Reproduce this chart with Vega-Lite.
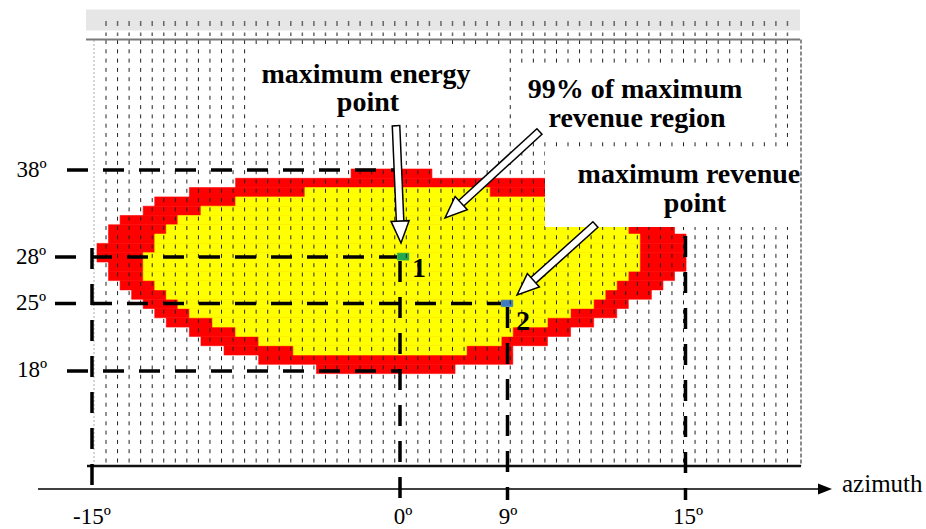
{
  "$schema": "https://vega.github.io/schema/vega-lite/v6.json",
  "width": 926,
  "height": 529,
  "autosize": {"type": "none"},
  "padding": 0,
  "background": "white",
  "config": {"view": {"stroke": null}},
  "datasets": {
    "cells": [
      {"c": "red", "y": 0, "y2": 1, "x": 22, "x2": 29},
      {"c": "red", "y": 1, "y2": 2, "x": 12, "x2": 39},
      {"c": "red", "y": 2, "y2": 3, "x": 8, "x2": 39},
      {"c": "red", "y": 3, "y2": 4, "x": 5, "x2": 40},
      {"c": "red", "y": 4, "y2": 5, "x": 4, "x2": 40},
      {"c": "red", "y": 5, "y2": 6, "x": 2, "x2": 40},
      {"c": "red", "y": 6, "y2": 7, "x": 1, "x2": 50},
      {"c": "red", "y": 7, "y2": 8, "x": 1, "x2": 51},
      {"c": "red", "y": 8, "y2": 9, "x": 0, "x2": 51},
      {"c": "red", "y": 9, "y2": 10, "x": 0, "x2": 51},
      {"c": "red", "y": 10, "y2": 11, "x": 1, "x2": 51},
      {"c": "red", "y": 11, "y2": 12, "x": 1, "x2": 50},
      {"c": "red", "y": 12, "y2": 13, "x": 2, "x2": 49},
      {"c": "red", "y": 13, "y2": 14, "x": 3, "x2": 48},
      {"c": "red", "y": 14, "y2": 15, "x": 4, "x2": 46},
      {"c": "red", "y": 15, "y2": 16, "x": 5, "x2": 45},
      {"c": "red", "y": 16, "y2": 17, "x": 6, "x2": 43},
      {"c": "red", "y": 17, "y2": 18, "x": 8, "x2": 41},
      {"c": "red", "y": 18, "y2": 19, "x": 9, "x2": 39},
      {"c": "red", "y": 19, "y2": 20, "x": 11, "x2": 36},
      {"c": "red", "y": 20, "y2": 21, "x": 14, "x2": 36},
      {"c": "red", "y": 21, "y2": 22, "x": 19, "x2": 31},
      {"c": "yellow", "y": 2, "y2": 3, "x": 18, "x2": 34},
      {"c": "yellow", "y": 3, "y2": 4, "x": 12, "x2": 40},
      {"c": "yellow", "y": 4, "y2": 5, "x": 9, "x2": 40},
      {"c": "yellow", "y": 5, "y2": 6, "x": 7, "x2": 40},
      {"c": "yellow", "y": 6, "y2": 7, "x": 6, "x2": 46},
      {"c": "yellow", "y": 7, "y2": 8, "x": 5, "x2": 47},
      {"c": "yellow", "y": 8, "y2": 9, "x": 5, "x2": 47},
      {"c": "yellow", "y": 9, "y2": 10, "x": 4, "x2": 47},
      {"c": "yellow", "y": 10, "y2": 11, "x": 4, "x2": 47},
      {"c": "yellow", "y": 11, "y2": 12, "x": 4, "x2": 46},
      {"c": "yellow", "y": 12, "y2": 13, "x": 5, "x2": 45},
      {"c": "yellow", "y": 13, "y2": 14, "x": 6, "x2": 44},
      {"c": "yellow", "y": 14, "y2": 15, "x": 7, "x2": 43},
      {"c": "yellow", "y": 15, "y2": 16, "x": 8, "x2": 41},
      {"c": "yellow", "y": 16, "y2": 17, "x": 10, "x2": 39},
      {"c": "yellow", "y": 17, "y2": 18, "x": 12, "x2": 36},
      {"c": "yellow", "y": 18, "y2": 19, "x": 14, "x2": 35},
      {"c": "yellow", "y": 19, "y2": 20, "x": 17, "x2": 32},
      {"c": "green", "y": 9.05, "y2": 9.8, "x": 26, "x2": 27},
      {"c": "blue", "y": 14.1, "y2": 14.8, "x": 35, "x2": 36}
    ],
    "grid": [
      {"x": 0.78, "y": -13.871, "y2": 31.935, "hy": -15.914, "hy2": -14.301},
      {"x": 1.78, "y": -13.871, "y2": 31.935, "hy": -15.914, "hy2": -14.301},
      {"x": 2.78, "y": -13.871, "y2": 31.935, "hy": -15.914, "hy2": -14.301},
      {"x": 3.78, "y": -13.871, "y2": 31.935, "hy": -15.914, "hy2": -14.301},
      {"x": 4.78, "y": -13.871, "y2": 31.935, "hy": -15.914, "hy2": -14.301},
      {"x": 5.78, "y": -13.871, "y2": 31.935, "hy": -15.914, "hy2": -14.301},
      {"x": 6.78, "y": -13.871, "y2": 31.935, "hy": -15.914, "hy2": -14.301},
      {"x": 7.78, "y": -13.871, "y2": 31.935, "hy": -15.914, "hy2": -14.301},
      {"x": 8.78, "y": -13.871, "y2": 31.935, "hy": -15.914, "hy2": -14.301},
      {"x": 9.78, "y": -13.871, "y2": 31.935, "hy": -15.914, "hy2": -14.301},
      {"x": 10.78, "y": -13.871, "y2": 31.935, "hy": -15.914, "hy2": -14.301},
      {"x": 11.78, "y": -13.871, "y2": 31.935, "hy": -15.914, "hy2": -14.301},
      {"x": 12.78, "y": -13.871, "y2": 31.935, "hy": -15.914, "hy2": -14.301},
      {"x": 13.78, "y": -13.871, "y2": 31.935, "hy": -15.914, "hy2": -14.301},
      {"x": 14.78, "y": -13.871, "y2": 31.935, "hy": -15.914, "hy2": -14.301},
      {"x": 15.78, "y": -13.871, "y2": 31.935, "hy": -15.914, "hy2": -14.301},
      {"x": 16.78, "y": -13.871, "y2": 31.935, "hy": -15.914, "hy2": -14.301},
      {"x": 17.78, "y": -13.871, "y2": 31.935, "hy": -15.914, "hy2": -14.301},
      {"x": 18.78, "y": -13.871, "y2": 31.935, "hy": -15.914, "hy2": -14.301},
      {"x": 19.78, "y": -13.871, "y2": 31.935, "hy": -15.914, "hy2": -14.301},
      {"x": 20.78, "y": -13.871, "y2": 31.935, "hy": -15.914, "hy2": -14.301},
      {"x": 21.78, "y": -13.871, "y2": 31.935, "hy": -15.914, "hy2": -14.301},
      {"x": 22.78, "y": -13.871, "y2": 31.935, "hy": -15.914, "hy2": -14.301},
      {"x": 23.78, "y": -13.871, "y2": 31.935, "hy": -15.914, "hy2": -14.301},
      {"x": 24.78, "y": -13.871, "y2": 31.935, "hy": -15.914, "hy2": -14.301},
      {"x": 25.78, "y": -13.871, "y2": 31.935, "hy": -15.914, "hy2": -14.301},
      {"x": 26.78, "y": -13.871, "y2": 31.935, "hy": -15.914, "hy2": -14.301},
      {"x": 27.78, "y": -13.871, "y2": 31.935, "hy": -15.914, "hy2": -14.301},
      {"x": 28.78, "y": -13.871, "y2": 31.935, "hy": -15.914, "hy2": -14.301},
      {"x": 29.78, "y": -13.871, "y2": 31.935, "hy": -15.914, "hy2": -14.301},
      {"x": 30.78, "y": -13.871, "y2": 31.935, "hy": -15.914, "hy2": -14.301},
      {"x": 31.78, "y": -13.871, "y2": 31.935, "hy": -15.914, "hy2": -14.301},
      {"x": 32.78, "y": -13.871, "y2": 31.935, "hy": -15.914, "hy2": -14.301},
      {"x": 33.78, "y": -13.871, "y2": 31.935, "hy": -15.914, "hy2": -14.301},
      {"x": 34.78, "y": -13.871, "y2": 31.935, "hy": -15.914, "hy2": -14.301},
      {"x": 35.78, "y": -13.871, "y2": 31.935, "hy": -15.914, "hy2": -14.301},
      {"x": 36.78, "y": -13.871, "y2": 31.935, "hy": -15.914, "hy2": -14.301},
      {"x": 37.78, "y": -13.871, "y2": 31.935, "hy": -15.914, "hy2": -14.301},
      {"x": 38.78, "y": -13.871, "y2": 31.935, "hy": -15.914, "hy2": -14.301},
      {"x": 39.78, "y": -13.871, "y2": 31.935, "hy": -15.914, "hy2": -14.301},
      {"x": 40.78, "y": -13.871, "y2": 31.935, "hy": -15.914, "hy2": -14.301},
      {"x": 41.78, "y": -13.871, "y2": 31.935, "hy": -15.914, "hy2": -14.301},
      {"x": 42.78, "y": -13.871, "y2": 31.935, "hy": -15.914, "hy2": -14.301},
      {"x": 43.78, "y": -13.871, "y2": 31.935, "hy": -15.914, "hy2": -14.301},
      {"x": 44.78, "y": -13.871, "y2": 31.935, "hy": -15.914, "hy2": -14.301},
      {"x": 45.78, "y": -13.871, "y2": 31.935, "hy": -15.914, "hy2": -14.301},
      {"x": 46.78, "y": -13.871, "y2": 31.935, "hy": -15.914, "hy2": -14.301},
      {"x": 47.78, "y": -13.871, "y2": 31.935, "hy": -15.914, "hy2": -14.301},
      {"x": 48.78, "y": -13.871, "y2": 31.935, "hy": -15.914, "hy2": -14.301},
      {"x": 49.78, "y": -13.871, "y2": 31.935, "hy": -15.914, "hy2": -14.301},
      {"x": 50.78, "y": -13.871, "y2": 31.935, "hy": -15.914, "hy2": -14.301},
      {"x": 51.78, "y": -13.871, "y2": 31.935, "hy": -15.914, "hy2": -14.301},
      {"x": 52.78, "y": -13.871, "y2": 31.935, "hy": -15.914, "hy2": -14.301},
      {"x": 53.78, "y": -13.871, "y2": 31.935, "hy": -15.914, "hy2": -14.301},
      {"x": 54.78, "y": -13.871, "y2": 31.935, "hy": -15.914, "hy2": -14.301},
      {"x": 55.78, "y": -13.871, "y2": 31.935, "hy": -15.914, "hy2": -14.301},
      {"x": 56.78, "y": -13.871, "y2": 31.935, "hy": -15.914, "hy2": -14.301},
      {"x": 57.78, "y": -13.871, "y2": 31.935, "hy": -15.914, "hy2": -14.301},
      {"x": 58.78, "y": -13.871, "y2": 31.935, "hy": -15.914, "hy2": -14.301},
      {"x": 59.78, "y": -13.871, "y2": 31.935, "hy": -15.914, "hy2": -14.301}
    ],
    "frame": [
      {"part": "header", "x": -0.952, "x2": 60.866, "y": -17.151, "y2": -14.892},
      {"part": "box", "x": 13.247, "x2": 35.325, "y": -13.011, "y2": -4.731},
      {"part": "box", "x": 36.19, "x2": 58.442, "y": -11.183, "y2": -3.333},
      {"part": "box", "x": 38.788, "x2": 60.779, "y": -2.043, "y2": 6.237}
    ],
    "borders": [
      {"part": "headline", "x": -0.952, "x2": 60.866, "y": -13.925, "y2": -13.925},
      {"part": "bottom", "x": -0.866, "x2": 60.952, "y": 31.935, "y2": 31.935},
      {"part": "right", "x": 60.952, "x2": 60.952, "y": -13.925, "y2": 31.935},
      {"part": "left", "x": -0.26, "x2": -0.26, "y": -13.871, "y2": 31.935},
      {"part": "axis", "x": -5.108, "x2": 62.771, "y": 34.409, "y2": 34.409}
    ],
    "guides": [
      {"deg": "38", "x": -2.597, "x2": 26.234, "y": 0.108, "y2": 0.108},
      {"deg": "28", "x": -3.636, "x2": 25.974, "y": 9.462, "y2": 9.462},
      {"deg": "25", "x": -3.636, "x2": 34.978, "y": 14.462, "y2": 14.462},
      {"deg": "18", "x": -2.597, "x2": 26.234, "y": 21.72, "y2": 21.72},
      {"deg": "0", "x": 26.234, "x2": 26.234, "y": 9.892, "y2": 35.591},
      {"deg": "9", "x": 35.541, "x2": 35.541, "y": 14.839, "y2": 35.591},
      {"deg": "15", "x": 50.952, "x2": 50.952, "y": 7.204, "y2": 35.591},
      {"deg": "-15", "x": -0.433, "x2": -0.433, "y": 8.495, "y2": 35.591}
    ],
    "arrows": [
      {"id": 1, "part": "o", "ord": 0, "x": 25.887, "y": -4.731},
      {"id": 1, "part": "o", "ord": 1, "x": 26.251, "y": 5.914},
      {"id": 1, "part": "i", "ord": 0, "x": 25.893, "y": -4.57},
      {"id": 1, "part": "i", "ord": 1, "x": 26.251, "y": 5.914},
      {"id": 2, "part": "o", "ord": 0, "x": 38.355, "y": -4.086},
      {"id": 2, "part": "o", "ord": 1, "x": 31.342, "y": 3.892},
      {"id": 2, "part": "i", "ord": 0, "x": 38.26, "y": -3.978},
      {"id": 2, "part": "i", "ord": 1, "x": 31.342, "y": 3.892},
      {"id": 3, "part": "o", "ord": 0, "x": 43.203, "y": 5.914},
      {"id": 3, "part": "o", "ord": 1, "x": 37.584, "y": 12.183},
      {"id": 3, "part": "i", "ord": 0, "x": 43.108, "y": 6.022},
      {"id": 3, "part": "i", "ord": 1, "x": 37.584, "y": 12.183}
    ],
    "heads": [
      {"id": 1, "x": 26.32, "y": 7.957, "heading": 177.6},
      {"id": 2, "x": 30.13, "y": 5.269, "heading": 227.5},
      {"id": 3, "x": 36.364, "y": 13.548, "heading": 228.1}
    ],
    "axisTip": [{"x": 63.636, "y": 34.409}],
    "labels": [
      {"t": "38º", "x": -5.671, "y": 0.108},
      {"t": "28º", "x": -5.714, "y": 9.462},
      {"t": "25º", "x": -5.714, "y": 14.409},
      {"t": "18º", "x": -5.628, "y": 21.613},
      {"t": "-15º", "x": -0.433, "y": 37.419},
      {"t": "0º", "x": 26.494, "y": 37.419},
      {"t": "9º", "x": 35.584, "y": 37.419},
      {"t": "15º", "x": 51.169, "y": 37.419}
    ],
    "axisTitle": [{"t": "azimuth", "x": 64.502, "y": 34.731}],
    "notes": [
      {"t": "maximum energy", "x": 23.29, "y": -9.247},
      {"t": "point", "x": 23.463, "y": -6.237},
      {"t": "99% of maximum", "x": 46.58, "y": -7.634},
      {"t": "revenue region", "x": 46.753, "y": -4.516},
      {"t": "maximum revenue", "x": 51.25, "y": 1.505},
      {"t": "point", "x": 51.775, "y": 4.624},
      {"t": "1", "x": 27.879, "y": 11.613},
      {"t": "2", "x": 36.883, "y": 17.312}
    ]
  },
  "encoding": {
    "x": {"field": "x", "type": "quantitative", "axis": null, "scale": {"domain": [-8.398, 71.775], "nice": false, "zero": false}},
    "y": {"field": "y", "type": "quantitative", "axis": null, "scale": {"domain": [-18.172, 38.71], "reverse": true, "nice": false, "zero": false}}
  },
  "layer": [
    {
      "data": {"name": "frame"},
      "transform": [{"filter": "datum.part == 'header'"}],
      "mark": {"type": "rect", "color": "#e6e6e6"},
      "encoding": {"x2": {"field": "x2"}, "y2": {"field": "y2"}}
    },
    {
      "data": {"name": "grid"},
      "mark": {"type": "rule", "color": "#666666", "strokeWidth": 1.5, "strokeDash": [5, 6.5, 3.5, 60]},
      "encoding": {"y": {"field": "hy", "type": "quantitative"}, "y2": {"field": "hy2"}}
    },
    {
      "data": {"name": "cells"},
      "mark": {"type": "rect", "strokeWidth": 0.6},
      "encoding": {
        "x2": {"field": "x2"},
        "y2": {"field": "y2"},
        "color": {
          "field": "c",
          "type": "nominal",
          "legend": null,
          "scale": {"domain": ["red", "yellow", "green", "blue"], "range": ["#ff0000", "#ffff00", "#22a94f", "#3d7cc2"]}
        },
        "stroke": {
          "field": "c",
          "type": "nominal",
          "legend": null,
          "scale": {"domain": ["red", "yellow", "green", "blue"], "range": ["#ff0000", "#ffff00", "#22a94f", "#3d7cc2"]}
        }
      }
    },
    {
      "data": {"name": "grid"},
      "mark": {"type": "rule", "color": "#222222", "strokeWidth": 1, "strokeDash": [4, 5.3]},
      "encoding": {"y2": {"field": "y2"}}
    },
    {
      "data": {"name": "borders"},
      "transform": [{"filter": "datum.part == 'left'"}],
      "mark": {"type": "rule", "color": "#aaaaaa", "strokeWidth": 1, "strokeDash": [2, 2]},
      "encoding": {"x2": {"field": "x2"}, "y2": {"field": "y2"}}
    },
    {
      "data": {"name": "borders"},
      "transform": [{"filter": "datum.part == 'right'"}],
      "mark": {"type": "rule", "color": "#666666", "strokeWidth": 1.5, "strokeDash": [4, 2]},
      "encoding": {"x2": {"field": "x2"}, "y2": {"field": "y2"}}
    },
    {
      "data": {"name": "borders"},
      "transform": [{"filter": "datum.part == 'headline'"}],
      "mark": {"type": "rule", "color": "#7a7a7a", "strokeWidth": 2},
      "encoding": {"x2": {"field": "x2"}, "y2": {"field": "y2"}}
    },
    {
      "data": {"name": "borders"},
      "transform": [{"filter": "datum.part == 'bottom'"}],
      "mark": {"type": "rule", "color": "#111111", "strokeWidth": 2.5},
      "encoding": {"x2": {"field": "x2"}, "y2": {"field": "y2"}}
    },
    {
      "data": {"name": "frame"},
      "transform": [{"filter": "datum.part == 'box'"}],
      "mark": {"type": "rect", "color": "white"},
      "encoding": {"x2": {"field": "x2"}, "y2": {"field": "y2"}}
    },
    {
      "data": {"name": "guides"},
      "mark": {"type": "rule", "color": "black", "strokeWidth": 3.5, "strokeDash": [21, 15]},
      "encoding": {"x2": {"field": "x2"}, "y2": {"field": "y2"}}
    },
    {
      "data": {"name": "borders"},
      "transform": [{"filter": "datum.part == 'axis'"}],
      "mark": {"type": "rule", "color": "black", "strokeWidth": 1.5},
      "encoding": {"x2": {"field": "x2"}, "y2": {"field": "y2"}}
    },
    {
      "data": {"name": "axisTip"},
      "mark": {"type": "point", "shape": "M0,0L-2,-0.8L-2,0.8Z", "size": 196, "filled": true, "color": "black", "opacity": 1},
      "encoding": {}
    },
    {
      "data": {"name": "arrows"},
      "transform": [{"filter": "datum.part == 'o'"}],
      "mark": {"type": "line", "color": "black", "strokeWidth": 9, "strokeCap": "butt"},
      "encoding": {"detail": {"field": "id"}, "order": {"field": "ord"}}
    },
    {
      "data": {"name": "arrows"},
      "transform": [{"filter": "datum.part == 'i'"}],
      "mark": {"type": "line", "color": "white", "strokeWidth": 6, "strokeCap": "butt"},
      "encoding": {"detail": {"field": "id"}, "order": {"field": "ord"}}
    },
    {
      "data": {"name": "heads"},
      "mark": {"type": "point", "shape": "M0,0L0.82,2L-0.82,2Z", "size": 484, "filled": true, "fill": "white", "stroke": "black", "strokeWidth": 1.5, "opacity": 1},
      "encoding": {"angle": {"field": "heading", "type": "quantitative", "scale": {"domain": [0, 360], "range": [0, 360]}}}
    },
    {
      "data": {"name": "labels"},
      "mark": {"type": "text", "font": "Liberation Serif", "fontSize": 23, "color": "black", "align": "center", "baseline": "middle"},
      "encoding": {"text": {"field": "t"}}
    },
    {
      "data": {"name": "axisTitle"},
      "mark": {"type": "text", "font": "Liberation Serif", "fontSize": 25, "color": "black", "align": "left", "baseline": "alphabetic"},
      "encoding": {"text": {"field": "t"}}
    },
    {
      "data": {"name": "notes"},
      "mark": {"type": "text", "font": "Liberation Serif", "fontSize": 28, "fontWeight": "bold", "color": "black", "align": "center", "baseline": "alphabetic"},
      "encoding": {"text": {"field": "t"}}
    }
  ]
}
